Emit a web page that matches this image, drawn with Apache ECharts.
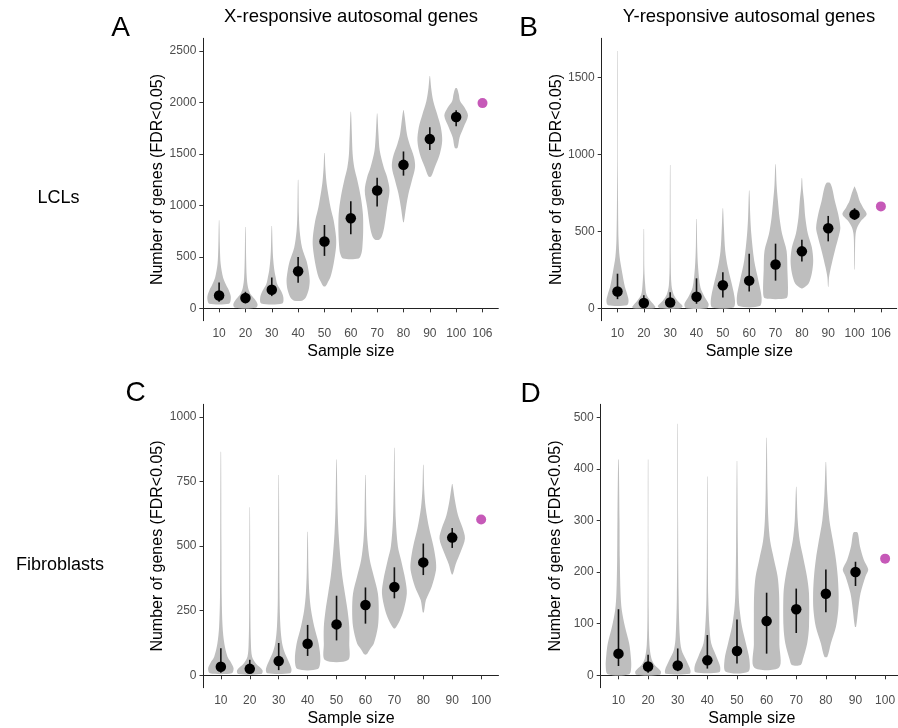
<!DOCTYPE html>
<html><head><meta charset="utf-8">
<script src="https://cdn.jsdelivr.net/npm/echarts@6/dist/echarts.min.js"></script>
<style>html,body{margin:0;padding:0;background:#fff}#c{width:898px;height:728px}</style>
</head><body><div id="c"></div>
<script>
// ---------- tick labels ----------
const labelsTop = ['10','20','30','40','50','60','70','80','90','100','106'];
const labelsBottom = ['10','20','30','40','50','60','70','80','90','100'];
const yTicksA = [0,500,1000,1500,2000,2500];
const yTicksB = [0,500,1000,1500];
const yTicksC = [0,250,500,750,1000];
const yTicksD = [0,100,200,300,400,500];

// ---------- panel A : X-responsive, LCLs ----------
const medianA = [125,100,180,360,650,875,1145,1395,1645,1860];
const q1A = [65,48,119,248,510,720,990,1290,1540,1770];
const q3A = [252,161,300,500,810,1040,1270,1525,1760,1925];
const fullA = 1995;
// violin profiles: [value, half-width as fraction of category spacing]
const violinA = [
  [[45,0.38],[80,0.44],[123,0.44],[180,0.36],[236,0.25],[300,0.15],[430,0.06],[590,0.03],[855,0.008]],
  [[5,0.4],[40,0.46],[90,0.35],[140,0.19],[200,0.1],[300,0.05],[500,0.025],[790,0.008]],
  [[48,0.4],[105,0.44],[170,0.35],[235,0.21],[300,0.15],[365,0.1],[490,0.05],[600,0.03],[800,0.008]],
  [[75,0.15],[100,0.28],[180,0.4],[268,0.44],[360,0.4],[460,0.32],[590,0.15],[750,0.06],[900,0.03],[1250,0.008]],
  [[216,0.04],[250,0.12],[306,0.23],[435,0.35],[596,0.44],[693,0.44],[854,0.35],[983,0.23],[1145,0.12],[1242,0.07],[1380,0.03],[1510,0.008]],
  [[484,0.3],[530,0.4],[596,0.44],[750,0.47],[918,0.46],[1080,0.38],[1242,0.25],[1371,0.13],[1500,0.07],[1694,0.04],[1910,0.008]],
  [[668,0.08],[700,0.18],[790,0.27],[984,0.38],[1145,0.47],[1274,0.38],[1371,0.25],[1532,0.1],[1694,0.05],[1893,0.008]],
  [[839,0.015],[984,0.1],[1113,0.19],[1242,0.32],[1371,0.44],[1468,0.4],[1597,0.23],[1694,0.13],[1855,0.05],[1926,0.008]],
  [[1281,0.05],[1371,0.19],[1500,0.38],[1629,0.47],[1758,0.42],[1887,0.28],[2016,0.13],[2145,0.05],[2258,0.008]],
  [[1558,0.05],[1661,0.13],[1758,0.28],[1871,0.45],[1952,0.32],[2016,0.15],[2081,0.1],[2139,0.03]]
];

// ---------- panel B : Y-responsive, LCLs ----------
const medianB = [110,35,38,75,150,180,285,370,520,610];
const q1B = [60,15,15,30,70,110,180,305,435,575];
const q3B = [225,85,105,195,235,355,420,445,600,650];
const fullB = 662;
const violinB = [
  [[21,0.36],[50,0.42],[90,0.37],[140,0.28],[230,0.18],[335,0.08],[445,0.04],[700,0.02],[1000,0.01],[1670,0.004]],
  [[1,0.4],[10,0.44],[50,0.25],[90,0.1],[155,0.05],[250,0.02],[515,0.006]],
  [[1,0.4],[15,0.47],[50,0.28],[90,0.13],[150,0.05],[300,0.02],[930,0.004]],
  [[1,0.4],[28,0.46],[71,0.32],[136,0.15],[265,0.06],[400,0.025],[580,0.006]],
  [[6,0.4],[50,0.46],[158,0.34],[265,0.19],[373,0.09],[525,0.04],[650,0.006]],
  [[15,0.4],[71,0.47],[180,0.35],[309,0.19],[482,0.08],[600,0.04],[765,0.006]],
  [[65,0.4],[97,0.47],[250,0.45],[373,0.42],[482,0.25],[590,0.15],[698,0.09],[800,0.04],[935,0.006]],
  [[130,0.03],[160,0.25],[230,0.38],[309,0.43],[395,0.38],[482,0.23],[590,0.13],[698,0.08],[780,0.03],[845,0.006]],
  [[140,0.006],[200,0.03],[265,0.1],[373,0.25],[482,0.42],[525,0.46],[611,0.38],[698,0.25],[780,0.15],[815,0.06]],
  [[253,0.006],[400,0.02],[482,0.04],[525,0.1],[568,0.25],[611,0.46],[655,0.32],[698,0.19],[750,0.1],[790,0.01]]
];

// ---------- panel C : X-responsive, Fibroblasts ----------
const medianC = [33,25,55,122,197,272,342,437,533];
const q1C = [10,10,20,75,135,200,298,388,493];
const q3C = [105,60,125,195,308,340,418,510,570];
const fullC = 603;
const violinC = [
  [[8,0.38],[27,0.44],[50,0.35],[72,0.23],[123,0.12],[188,0.06],[300,0.03],[500,0.02],[865,0.008]],
  [[5,0.4],[20,0.44],[46,0.21],[72,0.08],[120,0.04],[250,0.02],[650,0.006]],
  [[8,0.4],[25,0.44],[59,0.32],[90,0.2],[123,0.12],[188,0.06],[300,0.03],[775,0.006]],
  [[24,0.35],[59,0.44],[123,0.38],[188,0.23],[252,0.12],[317,0.06],[400,0.03],[555,0.008]],
  [[59,0.4],[123,0.44],[188,0.44],[252,0.38],[317,0.29],[382,0.2],[446,0.14],[550,0.07],[650,0.035],[835,0.008]],
  [[81,0.04],[100,0.15],[123,0.29],[188,0.43],[252,0.46],[317,0.43],[382,0.29],[446,0.15],[520,0.07],[600,0.035],[775,0.008]],
  [[182,0.03],[215,0.2],[252,0.32],[317,0.43],[369,0.38],[446,0.23],[500,0.12],[600,0.05],[750,0.02],[880,0.006]],
  [[244,0.02],[291,0.09],[343,0.29],[408,0.44],[446,0.43],[500,0.35],[570,0.2],[650,0.08],[720,0.03],[815,0.008]],
  [[391,0.02],[430,0.12],[480,0.3],[530,0.44],[570,0.36],[620,0.2],[680,0.09],[740,0.01]]
];

// ---------- panel D : Y-responsive, Fibroblasts ----------
const medianD = [42,17,19,29,47,105,128,158,200];
const q1D = [18,5,8,13,23,42,82,122,173];
const q3D = [128,40,52,78,108,160,168,205,220];
const fullD = 226;
const violinD = [
  [[2,0.36],[17,0.43],[40,0.41],[62,0.36],[94,0.22],[127,0.11],[159,0.07],[224,0.045],[300,0.035],[418,0.01]],
  [[1,0.4],[8,0.43],[20,0.22],[33,0.11],[59,0.045],[120,0.02],[250,0.01],[418,0.005]],
  [[3,0.4],[10,0.43],[30,0.28],[49,0.13],[75,0.07],[150,0.03],[300,0.012],[487,0.005]],
  [[6,0.4],[17,0.43],[37,0.3],[62,0.13],[94,0.07],[150,0.03],[250,0.015],[385,0.005]],
  [[7,0.38],[30,0.42],[62,0.3],[94,0.17],[127,0.09],[159,0.055],[250,0.03],[415,0.006]],
  [[15,0.42],[60,0.43],[120,0.43],[159,0.42],[192,0.37],[224,0.25],[260,0.12],[300,0.06],[360,0.03],[460,0.006]],
  [[20,0.15],[30,0.22],[62,0.37],[94,0.43],[159,0.43],[192,0.36],[224,0.25],[260,0.12],[300,0.05],[365,0.006]],
  [[36,0.05],[62,0.17],[94,0.34],[127,0.42],[159,0.43],[192,0.4],[224,0.34],[260,0.24],[300,0.12],[350,0.05],[413,0.008]],
  [[94,0.02],[127,0.09],[159,0.17],[192,0.34],[205,0.43],[224,0.28],[250,0.15],[270,0.1],[277,0.06]]
];

// ---------- rendering ----------
const FONT = "'Liberation Sans', Arial, Helvetica, sans-serif";
const VIOLIN = '#bebebe';
const MAGENTA = '#c659b8';

const grids = [
  {left:203.3, top:38.3, width:295, height:282.4},
  {left:601.7, top:38.3, width:295, height:282.4},
  {left:203.5, top:404.3, width:295, height:283.4},
  {left:600.7, top:404.3, width:302.2, height:283.4}
].map(g => Object.assign({outerBoundsMode:'none', containLabel:false}, g));

const panels = [
  {labels:labelsTop, yTicks:yTicksA, ymin:-120, ymax:2625, med:medianA, q1:q1A, q3:q3A, full:fullA, vio:violinA},
  {labels:labelsTop, yTicks:yTicksB, ymin:-80, ymax:1753, med:medianB, q1:q1B, q3:q3B, full:fullB, vio:violinB},
  {labels:labelsBottom, yTicks:yTicksC, ymin:-48, ymax:1049, med:medianC, q1:q1C, q3:q3C, full:fullC, vio:violinC},
  {labels:labelsBottom, yTicks:yTicksD, ymin:-24, ymax:525, med:medianD, q1:q1D, q3:q3D, full:fullD, vio:violinD}
];

const xAxes = [], yAxes = [], series = [];
panels.forEach((p, gi) => {
  const n = p.labels.length;
  const pos = p.labels.map((_, i) => i + 1);
  xAxes.push({
    type:'value', gridIndex:gi, min:0.4, max:n + 0.6,
    name:'Sample size', nameLocation:'middle', nameGap:23,
    nameTextStyle:{fontSize:16, color:'#000', fontFamily:FONT},
    splitLine:{show:false},
    axisLine:{show:true, lineStyle:{color:'#222', width:1}},
    axisTick:{show:true, customValues:pos, length:4, lineStyle:{color:'#333', width:1}},
    axisLabel:{customValues:pos, margin:7, fontSize:12, color:'#4d4d4d', fontFamily:FONT,
      formatter: v => p.labels[Math.round(v) - 1]}
  });
  yAxes.push({
    type:'value', gridIndex:gi, min:p.ymin, max:p.ymax,
    name:'Number of genes (FDR<0.05)', nameLocation:'middle', nameGap:37,
    nameTextStyle:{fontSize:16, color:'#000', fontFamily:FONT},
    splitLine:{show:false},
    axisLine:{show:true, lineStyle:{color:'#222', width:1}},
    axisTick:{show:true, customValues:p.yTicks, length:4, lineStyle:{color:'#333', width:1}},
    axisLabel:{customValues:p.yTicks, margin:7, fontSize:12, color:'#4d4d4d', fontFamily:FONT,
      formatter: v => String(Math.round(v))}
  });
  // violins
  series.push({
    type:'custom', xAxisIndex:gi, yAxisIndex:gi, z:1, silent:true,
    encode:{x:0, y:1},
    data: p.vio.map((_, i) => [i + 1, i]),
    renderItem: function (params, api) {
      const x = api.value(0);
      const prof = p.vio[params.dataIndex];
      const c0 = api.coord([x, 0]);
      const c1 = api.coord([x + 1, 0]);
      const band = c1[0] - c0[0];
      const right = [], left = [];
      for (let k = 0; k < prof.length; k++) {
        const v = prof[k][0], w = prof[k][1];
        const c = api.coord([x, v]);
        const hw = Math.max(w * band, 0.22);
        right.push([c[0] + hw, c[1]]);
        left.push([c[0] - hw, c[1]]);
      }
      left.reverse();
      return {type:'polygon', shape:{points:right.concat(left), smooth:0.3},
        style:{fill:VIOLIN}};
    }
  });
  // IQR lines
  series.push({
    type:'custom', xAxisIndex:gi, yAxisIndex:gi, z:2, silent:true,
    encode:{x:0, y:[1, 2]},
    data: p.med.map((_, i) => [i + 1, p.q1[i], p.q3[i]]),
    renderItem: function (params, api) {
      const a = api.coord([api.value(0), api.value(1)]);
      const b = api.coord([api.value(0), api.value(2)]);
      return {type:'line', shape:{x1:a[0], y1:a[1], x2:b[0], y2:b[1]},
        style:{stroke:'#111', lineWidth:1.6}};
    }
  });
  // medians
  series.push({
    type:'scatter', xAxisIndex:gi, yAxisIndex:gi, z:3, silent:true,
    symbol:'circle', symbolSize:10.5, itemStyle:{color:'#000', opacity:1},
    data: p.med.map((m, i) => [i + 1, m])
  });
  // full sample point
  series.push({
    type:'scatter', xAxisIndex:gi, yAxisIndex:gi, z:3, silent:true,
    symbol:'circle', symbolSize:10, itemStyle:{color:MAGENTA, opacity:1},
    data: [[n, p.full]]
  });
});

const txt = (text, x, y, size) => ({
  type:'text', x:x, y:y,
  style:{text:text, fontSize:size, fontFamily:FONT, fill:'#000', align:'center', verticalAlign:'middle'}
});

const chart = echarts.init(document.getElementById('c'), null, {renderer:'canvas'});
chart.setOption({
  animation:false,
  backgroundColor:'#fff',
  grid:grids, xAxis:xAxes, yAxis:yAxes, series:series,
  graphic:[
    txt('A', 120.5, 28, 28), txt('B', 528.5, 28, 28),
    txt('C', 135.5, 393, 28), txt('D', 530.5, 394, 28),
    txt('X-responsive autosomal genes', 351, 17, 18.5),
    txt('Y-responsive autosomal genes', 749, 17, 18.5),
    txt('LCLs', 58.5, 198, 18), txt('Fibroblasts', 60, 565, 18)
  ]
});
</script></body></html>
